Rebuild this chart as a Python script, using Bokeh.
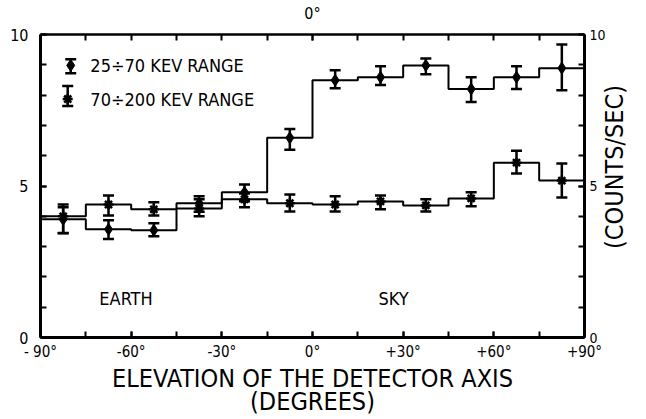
import numpy as np
from bokeh.plotting import figure
from bokeh.models import (ColumnDataSource, LinearAxis, FixedTicker, Whisker, TeeHead, Label)
from bokeh.embed import file_html
from bokeh.resources import INLINE

# ---- data ----
bin_edges = [-90, -75, -60, -45, -30, -15, 0, 15, 30, 45, 60, 75, 90]

low_counts = [3.90, 3.57, 3.54, 4.43, 4.79, 6.59, 8.49, 8.59, 8.98, 8.20, 8.59, 8.89]
low_upper = [4.30, 3.87, 3.77, 4.66, 5.05, 6.88, 8.82, 8.95, 9.21, 8.59, 8.95, 9.67]
low_lower = [3.45, 3.25, 3.34, 4.15, 4.50, 6.20, 8.23, 8.33, 8.69, 7.77, 8.20, 8.16]

high_counts = [4.00, 4.39, 4.23, 4.26, 4.56, 4.43, 4.39, 4.49, 4.36, 4.59, 5.77, 5.18]
high_upper = [4.39, 4.69, 4.46, 4.56, 4.75, 4.72, 4.66, 4.69, 4.56, 4.79, 6.16, 5.74]
high_lower = [3.44, 4.03, 4.03, 4.00, 4.30, 4.16, 4.16, 4.23, 4.16, 4.33, 5.41, 4.62]

series_labels = ["25\u00f770 KEV RANGE", "70\u00f7200 KEV RANGE"]
x_tick_labels = {-90: "- 90\u00b0", -60: "-60\u00b0", -30: "-30\u00b0", 0: "0\u00b0",
                 30: "+30\u00b0", 60: "+60\u00b0", 90: "+90\u00b0"}
x_title = "ELEVATION OF THE DETECTOR AXIS\n(DEGREES)"
y_title = "(COUNTS/SEC)"
region_labels = ["EARTH", "SKY"]

FONT = "DejaVu Sans Condensed"

edges = np.array(bin_edges, dtype=float)
centers = (edges[:-1] + edges[1:]) / 2

p = figure(width=646, height=419, x_range=(-90, 90), y_range=(0, 10),
           output_backend="svg", toolbar_location=None,
           x_axis_location=None, y_axis_location=None,
           min_border_left=40, min_border_right=58, min_border_top=32, min_border_bottom=82)
p.xgrid.visible = False
p.ygrid.visible = False
p.outline_line_color = None
p.background_fill_color = "white"
p.border_fill_color = "white"

def style_axis(ax, width, size="16px"):
    ax.axis_line_width = width
    ax.axis_line_color = "black"
    ax.major_tick_in = 6
    ax.major_tick_out = 0
    ax.minor_tick_in = 6
    ax.minor_tick_out = 0
    ax.major_tick_line_width = 2
    ax.minor_tick_line_width = 2
    ax.major_label_text_font = FONT
    ax.major_label_text_color = "black"
    ax.major_label_text_font_size = size
    ax.axis_label_text_font = FONT
    ax.axis_label_text_font_style = "normal"
    ax.axis_label_text_color = "black"

xt = FixedTicker(ticks=[-90, -60, -30, 0, 30, 60, 90], minor_ticks=list(edges))
bottom = LinearAxis(ticker=xt, major_label_overrides=x_tick_labels)
style_axis(bottom, 3, "15px")
bottom.major_label_standoff = 5
bottom.axis_label = x_title
bottom.axis_label_standoff = 0
bottom.axis_label_text_font_size = "25px"
bottom.axis_label_text_line_height = 0.82
p.add_layout(bottom, "below")

top = LinearAxis(ticker=FixedTicker(ticks=[0], minor_ticks=list(edges)),
                 major_label_overrides={0: "0\u00b0"})
style_axis(top, 2.5)
top.major_label_standoff = 12
p.add_layout(top, "above")

yt = FixedTicker(ticks=[0, 5, 10], minor_ticks=list(range(0, 11)))
left = LinearAxis(ticker=yt)
style_axis(left, 3)
left.major_label_standoff = 12
p.add_layout(left, "left")

right = LinearAxis(ticker=FixedTicker(ticks=[0, 5, 10], minor_ticks=list(range(0, 11))))
style_axis(right, 3, "14px")
right.major_label_standoff = 5
p.add_layout(right, "right")

# second right axis used only to carry the rotated unit label
unit_start = 2.92
right2 = LinearAxis(ticker=FixedTicker(ticks=[unit_start]),
                    major_label_overrides={unit_start: y_title})
right2.axis_line_color = None
right2.major_tick_line_color = None
right2.minor_tick_line_color = None
right2.major_label_text_font = FONT
right2.major_label_text_font_size = "25px"
right2.major_label_text_color = "black"
right2.major_label_orientation = np.pi / 2
right2.major_label_standoff = 0
p.add_layout(right2, "right")

# step histograms
low_step = list(low_counts) + [low_counts[-1]]
high_step = list(high_counts) + [high_counts[-1]]
p.step(x=list(edges), y=low_step, mode="after", line_color="black", line_width=2)
p.step(x=list(edges), y=high_step, mode="after", line_color="black", line_width=2)

def errbars(x, up, lo):
    src = ColumnDataSource(dict(x=list(x), upper=list(up), lower=list(lo)))
    w = Whisker(source=src, base="x", upper="upper", lower="lower",
                line_width=2.5, line_color="black",
                upper_head=TeeHead(size=11, line_width=2.5, line_color="black"),
                lower_head=TeeHead(size=11, line_width=2.5, line_color="black"))
    p.add_layout(w)

errbars(centers, low_upper, low_lower)
errbars(centers, high_upper, high_lower)
p.scatter(centers, low_counts, marker="diamond", size=12, color="black")
p.scatter(centers, high_counts, marker="asterisk", size=10, line_width=2.5, color="black")

# legend keys (layout positions in data space)
leg_x = [-80.0, -81.0]
leg_y = [8.98, 7.87]
leg_up = [9.18, 8.30]
leg_lo = [8.72, 7.64]
errbars(leg_x, leg_up, leg_lo)
p.scatter(leg_x[:1], leg_y[:1], marker="diamond", size=12, color="black")
p.scatter(leg_x[1:], leg_y[1:], marker="asterisk", size=10, line_width=2.5, color="black")
for yy, txt in zip(leg_y, series_labels):
    p.add_layout(Label(x=-73.5, y=yy, text=txt, text_font=FONT, text_font_size="18px",
                       text_baseline="middle", text_align="left", text_color="black"))

for xx, txt in zip([-61.7, 26.8], region_labels):
    p.add_layout(Label(x=xx, y=1.3, text=txt, text_font=FONT, text_font_size="18px",
                       text_baseline="middle", text_align="center", text_color="black"))

open("out.html", "w").write(file_html(p, INLINE))
